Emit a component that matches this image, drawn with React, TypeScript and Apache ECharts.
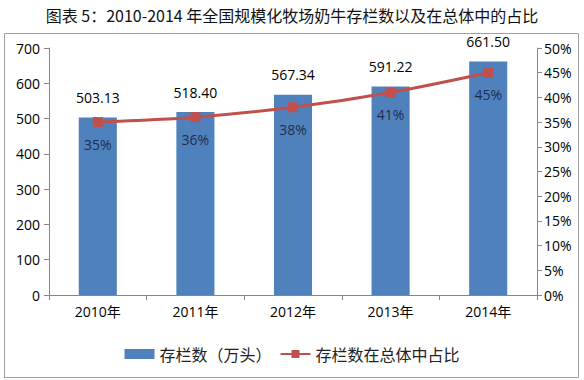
import React, { useEffect, useRef } from "react";
import * as echarts from "echarts";

const categories = ["2010年", "2011年", "2012年", "2013年", "2014年"];
const stockValues = [503.13, 518.4, 567.34, 591.22, 661.5];
const shareValues = [0.35, 0.36, 0.38, 0.41, 0.45];
const titleText = "图表 5：2010-2014 年全国规模化牧场奶牛存栏数以及在总体中的占比";
const seriesNames = ["存栏数（万头）", "存栏数在总体中占比"];

const FONT = "'Open Sans', 'Noto Sans CJK SC', sans-serif";

export default function App() {
  const ref = useRef<HTMLDivElement>(null);
  useEffect(() => {
    if (!ref.current) return;
    const chart = echarts.init(ref.current, undefined, { renderer: "svg" });
    chart.setOption({
      animation: false,
      backgroundColor: "#ffffff",
      textStyle: { fontFamily: FONT },
      title: {
        text: titleText,
        left: "center",
        top: 2,
        textStyle: { fontSize: 16, fontWeight: "normal", color: "#111", fontFamily: "'Noto Sans CJK SC', sans-serif" },
      },
      graphic: [
        {
          type: "rect",
          shape: { x: 4.5, y: 33.5, width: 574, height: 344 },
          style: { fill: "none", stroke: "#a0a0a0", lineWidth: 1 },
          silent: true,
        },
      ],
      legend: {
        bottom: 13,
        left: "center",
        itemGap: 8,
        textStyle: { fontSize: 16, color: "#222", fontFamily: "'Noto Sans CJK SC', sans-serif" },
        data: [
          { name: seriesNames[0], icon: "rect", itemStyle: { color: "#4F81BD" } },
          { name: seriesNames[1] },
        ],
        itemWidth: 30,
        itemHeight: 10,
      },
      grid: { left: 49, right: 47, top: 48, bottom: 85, containLabel: false },
      xAxis: {
        type: "category",
        data: categories,
        axisLine: { lineStyle: { color: "#868686" } },
        axisTick: { show: true, alignWithLabel: false, length: 5, lineStyle: { color: "#868686" } },
        axisLabel: { color: "#000", fontSize: 14, margin: 9 },
      },
      yAxis: [
        {
          type: "value",
          min: 0,
          max: 700,
          interval: 100,
          axisLine: { show: true, lineStyle: { color: "#868686" } },
          axisTick: { show: true, length: 5, lineStyle: { color: "#868686" } },
          splitLine: { show: false },
          axisLabel: { color: "#000", fontSize: 14, margin: 9 },
        },
        {
          type: "value",
          min: 0,
          max: 0.5,
          interval: 0.05,
          position: "right",
          axisLine: { show: true, lineStyle: { color: "#868686" } },
          axisTick: { show: true, length: 5, lineStyle: { color: "#868686" } },
          splitLine: { show: false },
          axisLabel: {
            color: "#000",
            fontSize: 14,
            margin: 7,
            formatter: (v: number) => Math.round(v * 100) + "%",
          },
        },
      ],
      series: [
        {
          name: seriesNames[0],
          type: "bar",
          data: stockValues,
          barWidth: "39%",
          itemStyle: { color: "#4F81BD" },
          label: {
            show: true,
            position: "top",
            distance: 13,
            color: "#000",
            fontSize: 14,
            formatter: (p: any) => Number(p.value).toFixed(2),
          },
          z: 1,
        },
        {
          name: seriesNames[1],
          type: "line",
          yAxisIndex: 1,
          data: shareValues,
          smooth: 0.3,
          symbol: "rect",
          symbolSize: 10,
          lineStyle: { color: "#C0504D", width: 3 },
          itemStyle: { color: "#C0504D" },
          label: {
            show: true,
            position: "bottom",
            distance: 10,
            color: "#1F2D4D",
            fontSize: 14,
            formatter: (p: any) => Math.round(p.value * 100) + "%",
          },
          z: 3,
        },
      ],
    });
    return () => chart.dispose();
  }, []);
  return <div ref={ref} style={{ width: 584, height: 380, position: "absolute", left: 0, top: 0 }} />;
}
